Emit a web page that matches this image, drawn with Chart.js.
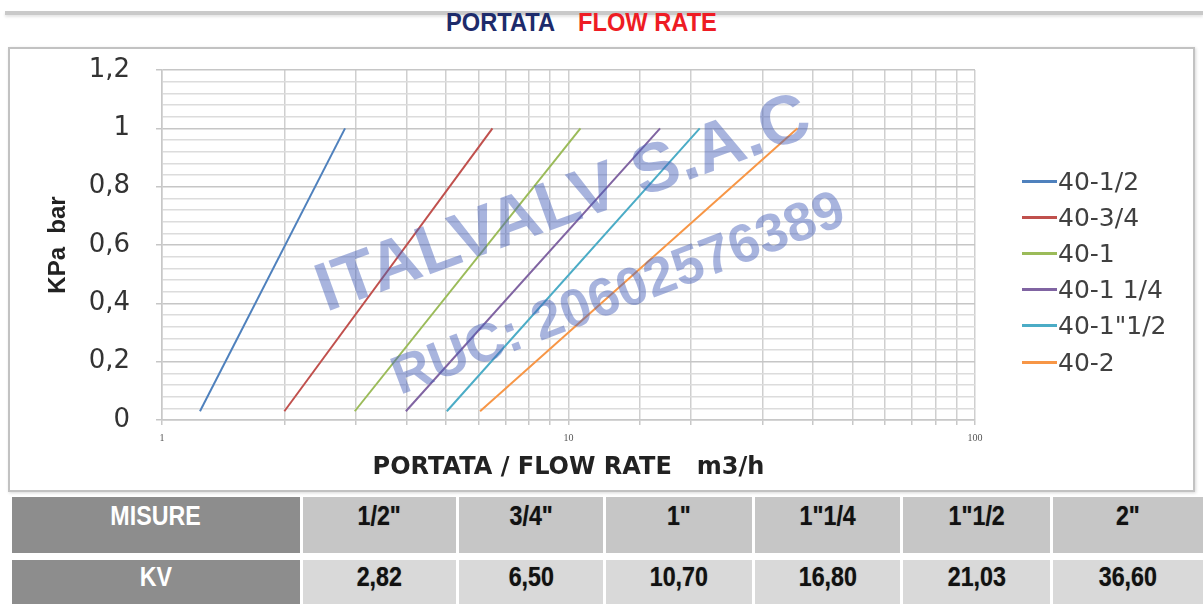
<!DOCTYPE html>
<html>
<head>
<meta charset="utf-8">
<script src="https://cdn.jsdelivr.net/npm/chart.js@4.4.1/dist/chart.umd.min.js"></script>
<style>
  html, body { margin: 0; padding: 0; background: #fff; }
  body { width: 1203px; height: 606px; position: relative; overflow: hidden; font-family: "Liberation Sans", Arial, sans-serif; }
  #topline { position: absolute; left: 5px; right: 0; top: 11px; height: 4px; background: #c9c9c9; box-shadow: 0 2px 3px #e4e4e4; }
  .cond { display: inline-block; transform: scaleX(0.86); }
  #title span { position: absolute; top: 9px; font: bold 26px "Liberation Sans", Arial, sans-serif; line-height: 26px; transform: scaleX(0.91); transform-origin: left center; white-space: nowrap; }
  #title .a { left: 446px; color: #1d2b6b; }
  #title .b { left: 578px; color: #ee1c24; }
  #box { position: absolute; left: 8px; top: 47px; width: 1183px; height: 441px; border: 2px solid #c2c2c2; box-shadow: 1px 1px 3px #d8d8d8; }
  #wrap { position: absolute; left: 10px; top: 50px; width: 1183px; height: 440px; }
  #legend { position: absolute; left: 1022px; top: 163px; font: 25px "DejaVu Sans", sans-serif; color: #404040; }
  #legend div { height: 36.2px; display: flex; align-items: center; }
  #legend span.ln { display: inline-block; width: 35px; height: 3px; margin-right: 1px; }
  #table { position: absolute; left: 12px; top: 497px; display: grid; grid-template-columns: 288px 153px 144px 146px 145px 147px 150px; grid-template-rows: 56px 44px; column-gap: 3px; row-gap: 7px; font: bold 27px "Liberation Sans", Arial, sans-serif; line-height: 30px; }
  #table div { background: #c6c6c6; color: #111; text-align: center; box-sizing: border-box; text-shadow: 0 0 1px #777; }
  #table div.r1 { padding-top: 4px; }
  #table div.r2 { background: #d9d9d9; padding-top: 2px; }
  #table div.h { background: #8d8d8d; color: #fff; text-shadow: none; }
</style>
</head>
<body>
<div id="topline"></div>
<div id="title"><span class="a">PORTATA</span><span class="b">FLOW RATE</span></div>
<div id="box"></div>
<div id="wrap"><canvas id="chart-flow"></canvas></div>
<div id="legend"></div>
<div id="table"></div>
<script>
const seriesNames = ['40-1/2', '40-3/4', '40-1', '40-1 1/4', '40-1"1/2', '40-2'];
const seriesColors = ['#4f81bd', '#c0504d', '#9bbb59', '#8064a2', '#4bacc6', '#f79646'];
// flow at the bottom of each curve and at 1 bar (= Kv)
const startFlow = [1.24, 2.0, 2.98, 3.98, 5.02, 6.06];
const startDrop = [0.03, 0.03, 0.03, 0.03, 0.03, 0.03];
const kvFlow = [2.82, 6.50, 10.70, 16.80, 21.03, 36.60];
const endDrop = [1, 1, 1, 1, 1, 1];
const sizeLabels = ['1/2"', '3/4"', '1"', '1"1/4', '1"1/2', '2"'];
const xTickLabels = [1, 10, 100];

const datasets = seriesNames.map((name, i) => ({
  label: name,
  data: [{ x: startFlow[i], y: startDrop[i] }, { x: kvFlow[i], y: endDrop[i] }],
  borderColor: seriesColors[i],
  backgroundColor: seriesColors[i],
  borderWidth: 2,
  pointRadius: 0,
  showLine: true
}));

const watermark = {
  id: 'watermark',
  afterDraw(chart) {
    const c = chart.ctx;
    c.save();
    c.fillStyle = 'rgba(70, 95, 185, 0.47)';
    c.translate(316, 262);
    c.rotate(-20 * Math.PI / 180);
    c.font = 'bold 69px "Liberation Sans", Arial, sans-serif';
    c.fillText('ITALVALV S.A.C', 0, 0);
    c.restore();
    c.save();
    c.fillStyle = 'rgba(70, 95, 185, 0.47)';
    c.translate(390, 345);
    c.rotate(-21 * Math.PI / 180);
    c.font = 'bold 54px "Liberation Sans", Arial, sans-serif';
    c.fillText('RUC: 20602576389', 0, 0);
    c.restore();
  }
};

const isMajor = v => Math.abs(Math.round(v * 100) % 20) === 0;

const ctx = document.getElementById('chart-flow').getContext('2d');
new Chart(ctx, {
  type: 'scatter',
  data: { datasets },
  options: {
    responsive: true,
    maintainAspectRatio: false,
    animation: false,
    layout: { padding: { top: 20, right: 218, left: 0, bottom: 0 } },
    plugins: { legend: { display: false }, tooltip: { enabled: false } },
    scales: {
      x: {
        type: 'logarithmic',
        min: 1,
        max: 100,
        afterFit: s => { s.height = 70; },
        border: { color: '#c8c8c8', width: 1.5 },
        grid: { color: '#cfcfcf', lineWidth: 1.5, tickLength: 5, tickColor: '#c8c8c8' },
        ticks: {
          autoSkip: false,
          maxRotation: 0,
          padding: 7,
          color: '#555',
          font: { family: '"Liberation Serif", serif', size: 10 },
          callback: v => xTickLabels.includes(v) ? String(v) : ''
        },
        title: {
          display: true,
          text: 'PORTATA / FLOW RATE   m3/h',
          color: '#222',
          font: { family: '"DejaVu Sans", sans-serif', size: 24, weight: 'bold' },
          padding: { top: 0, bottom: 8 }
        }
      },
      y: {
        min: 0,
        max: 1.2,
        afterFit: s => { s.width = 152; s.paddingTop = 0; s.paddingBottom = 0; },
        border: { color: '#c8c8c8', width: 1.5 },
        grid: {
          color: c => isMajor(c.tick.value) ? '#c6c6c6' : '#dcdcdc',
          lineWidth: 1.5,
          tickLength: 6,
          tickColor: c => isMajor(c.tick.value) ? '#c6c6c6' : 'rgba(0,0,0,0)'
        },
        ticks: {
          stepSize: 0.04,
          autoSkip: false,
          padding: 26,
          color: '#333',
          font: { family: '"DejaVu Sans", sans-serif', size: 26 },
          callback: v => isMajor(v) ? String(Math.round(v * 10) / 10).replace('.', ',') : ''
        },
        title: {
          display: true,
          text: 'KPa  bar',
          color: '#222',
          font: { family: '"Liberation Sans", Arial, sans-serif', size: 24, weight: 'bold' },
          padding: { top: 34, bottom: 0 }
        }
      }
    }
  },
  plugins: [watermark]
});

// legend
const legendEl = document.getElementById('legend');
seriesNames.forEach((name, i) => {
  const row = document.createElement('div');
  const ln = document.createElement('span');
  ln.className = 'ln';
  ln.style.background = seriesColors[i];
  row.appendChild(ln);
  row.appendChild(document.createTextNode(name));
  legendEl.appendChild(row);
});

// table
const tableEl = document.getElementById('table');
const addCell = (txt, cls) => {
  const d = document.createElement('div');
  d.className = cls;
  const s = document.createElement('span');
  s.className = 'cond';
  s.textContent = txt;
  d.appendChild(s);
  tableEl.appendChild(d);
};
addCell('MISURE', 'r1 h');
sizeLabels.forEach(s => addCell(s, 'r1'));
addCell('KV', 'r2 h');
kvFlow.forEach(k => addCell(k.toFixed(2).replace('.', ','), 'r2'));
</script>
</body>
</html>
